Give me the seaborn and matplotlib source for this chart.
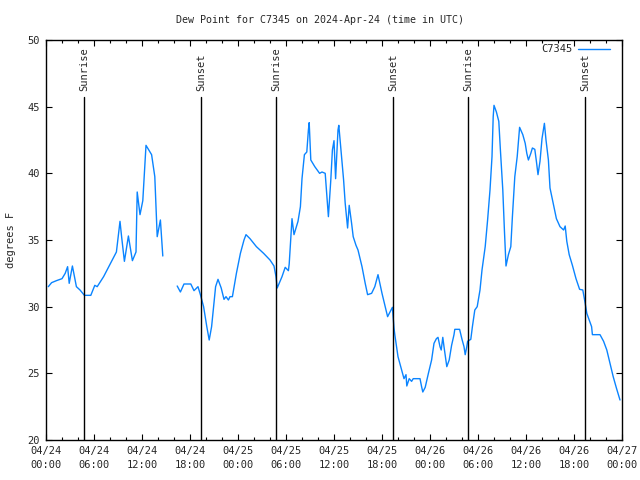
import numpy as np
import pandas as pd
import seaborn as sns
import matplotlib
matplotlib.use("Agg")
import matplotlib.pyplot as plt
import matplotlib.dates as mdates
from matplotlib.lines import Line2D


# Data (hours after 2024-04-24 00:00 UTC) ..........................................................

hours_a = [0.29, 0.7, 1.3, 2.0, 2.4, 2.7, 2.9, 3.3, 3.8, 4.25, 4.8, 5.6, 6.1, 6.4, 7.2, 8.8,
           9.25, 9.45, 9.8, 10.3, 10.8, 11.25, 11.4, 11.75, 12.1, 12.5, 13.2, 13.6, 13.9, 14.3, 14.6]
dew_a = [31.5, 31.8, 31.95, 32.1, 32.5, 33.0, 31.75, 33.05, 31.5, 31.25, 30.85, 30.85, 31.6, 31.5,
         32.25, 34.1, 36.4, 35.25, 33.4, 35.3, 33.45, 34.1, 38.6, 36.9, 37.95, 42.1, 41.4, 39.75,
         35.25, 36.5, 33.8]

hours_b = [16.4, 16.8, 17.25, 18.1, 18.5, 19.0, 19.3, 19.7, 20.1, 20.4, 20.7, 21.2, 21.5, 21.9,
           22.25, 22.5, 22.8, 23.0, 23.3, 23.8, 24.3, 24.75, 25.0, 25.5, 26.3, 27.2, 28.0, 28.5,
           28.75, 28.9, 29.5, 29.9, 30.3, 30.4, 30.6, 30.75, 31.0, 31.5, 31.8, 32.0, 32.3, 32.6,
           32.8, 32.9, 33.1, 33.6, 34.2, 34.5, 34.9, 35.1, 35.3, 35.6, 35.8, 36.0, 36.2, 36.5,
           36.6, 36.8, 37.2, 37.4, 37.7, 37.9, 38.2, 38.4, 38.75, 39.0, 39.5, 39.9, 40.2, 40.7,
           41.1, 41.5, 42.0, 42.4, 42.7, 43.0, 43.3, 43.5, 43.6, 44.0, 44.45, 44.75, 45.0, 45.1,
           45.4, 45.7, 45.9, 46.75, 46.95, 47.1, 47.4, 47.8, 48.2, 48.5, 48.8, 49.0, 49.25, 49.4,
           49.6, 49.75, 50.1, 50.4, 50.7, 51.0, 51.1, 51.7, 52.0, 52.25, 52.4, 52.6, 52.7, 53.1,
           53.3, 53.6, 53.9, 54.25, 54.5, 54.9, 55.2, 55.5, 55.75, 55.9, 56.0, 56.3, 56.6, 56.8,
           57.1, 57.3, 57.5, 57.8, 58.1, 58.3, 58.6, 58.9, 59.2, 59.6, 59.9, 60.1, 60.3, 60.6,
           60.8, 61.1, 61.3, 61.5, 61.75, 62.0, 62.3, 62.5, 62.8, 63.0, 63.4, 63.8, 64.25, 64.7,
           64.9, 65.1, 65.4, 65.8, 66.25, 66.7, 67.1, 67.4, 67.6, 67.9, 68.2, 68.3, 69.25, 69.7,
           70.1, 70.5, 70.9, 71.3, 71.75]
dew_b = [31.55, 31.1, 31.7, 31.7, 31.2, 31.5, 30.9, 30.0, 28.5, 27.5, 28.5, 31.5, 32.05, 31.4,
         30.55, 30.75, 30.5, 30.75, 30.75, 32.5, 34.0, 35.0, 35.4, 35.1, 34.5, 34.0, 33.5, 33.05,
         32.25, 31.4, 32.25, 32.95, 32.7, 33.2, 35.1, 36.6, 35.4, 36.4, 37.5, 39.6, 41.4, 41.6,
         43.25, 43.8, 41.0, 40.5, 40.0, 40.1, 40.0, 38.4, 36.75, 39.5, 41.75, 42.45, 39.6, 43.25,
         43.6, 42.25, 39.5, 37.75, 35.9, 37.6, 36.25, 35.25, 34.6, 34.25, 33.0, 31.75, 30.9, 31.0,
         31.5, 32.4, 31.0, 30.0, 29.25, 29.6, 29.95, 28.4, 27.9, 26.25, 25.25, 24.6, 24.9, 24.05,
         24.6, 24.4, 24.6, 24.6, 24.0, 23.6, 23.95, 25.0, 26.0, 27.25, 27.6, 27.7, 27.0, 26.75,
         27.7, 27.0, 25.5, 26.0, 27.1, 27.9, 28.3, 28.3, 27.55, 27.0, 26.4, 27.0, 27.4, 27.55,
         28.5, 29.75, 30.0, 31.25, 32.75, 34.5, 36.5, 38.75, 41.25, 44.25, 45.1, 44.6, 43.9, 41.75,
         38.75, 35.75, 33.05, 33.9, 34.5, 36.75, 39.75, 41.25, 43.45, 42.9, 42.25, 41.5, 41.0, 41.5,
         41.9, 41.8, 40.9, 39.9, 40.9, 42.6, 43.75, 42.5, 41.0, 38.9, 37.75, 36.6, 36.0, 35.75,
         36.05, 34.9, 33.9, 33.1, 32.1, 31.3, 31.25, 30.25, 29.5, 29.0, 28.5, 27.9, 27.9, 27.4,
         26.75, 25.75, 24.75, 23.9, 23.0]

event_hours = [4.75, 19.4, 28.75, 43.4, 52.75, 67.4]
event_labels = ["Sunrise", "Sunset", "Sunrise", "Sunset", "Sunrise", "Sunset"]

station = "C7345"
start = pd.Timestamp("2024-04-24 00:00")


# Build table ......................................................................................

df = pd.DataFrame({
    "hours": hours_a + hours_b,
    "dew": dew_a + dew_b,
    "segment": [0] * len(hours_a) + [1] * len(hours_b),
})
df["time"] = start + pd.to_timedelta(df["hours"], unit="h")
events = [start + pd.Timedelta(hours=h) for h in event_hours]


# Plot ..............................................................................................

sns.set_style("ticks")
plt.rcParams["font.family"] = ["DejaVu Sans Mono"]
plt.rcParams["font.size"] = 7.5

line_color = "#0a84ff"

fig = plt.figure(figsize=(6.4, 4.8), dpi=100)
ax = fig.add_axes([46 / 640, 40 / 480, 576 / 640, 400 / 480])

sns.lineplot(data=df, x="time", y="dew", units="segment", estimator=None,
             color=line_color, linewidth=1, ax=ax)

for t, lab in zip(events, event_labels):
    ax.plot([t, t], [20, 45.75], color="black", linewidth=1)
    ax.text(t, 46.2, lab, rotation=90, ha="center", va="bottom", fontsize=7.5)

ax.set_xlim(start, start + pd.Timedelta(hours=72))
ax.set_ylim(20, 50)
ax.set_yticks(np.arange(20, 51, 5))
ax.xaxis.set_major_locator(mdates.HourLocator(byhour=[0, 6, 12, 18]))
ax.xaxis.set_minor_locator(mdates.HourLocator(byhour=range(0, 24, 2)))
ax.xaxis.set_major_formatter(mdates.DateFormatter("%m/%d\n%H:%M"))

ax.tick_params(which="both", direction="in", top=True, right=True, color="black")
ax.tick_params(which="major", length=4.5, width=0.8, pad=4.5, labelsize=7.5)
ax.tick_params(which="minor", length=2.2, width=0.8)
for lab in ax.get_xticklabels():
    lab.set_linespacing(1.5)
for s in ax.spines.values():
    s.set_color("black")
    s.set_linewidth(1)

ax.set_xlabel("")
ax.set_ylabel("degrees F", fontsize=7.5, labelpad=8)

handle = Line2D([], [], color=line_color, linewidth=1)
ax.legend([handle], [station], loc="upper right", frameon=False, markerfirst=False,
          bbox_to_anchor=(1 - 6 / 576, 1 + 2 / 400),
          handlelength=3, handletextpad=0.6, borderaxespad=0.2, fontsize=7.5)

fig.text(0.5, 1 - 20 / 480, f"Dew Point for {station} on 2024-Apr-24 (time in UTC)",
         ha="center", va="center", fontsize=7.2)

fig.savefig("out.png", dpi=100)
